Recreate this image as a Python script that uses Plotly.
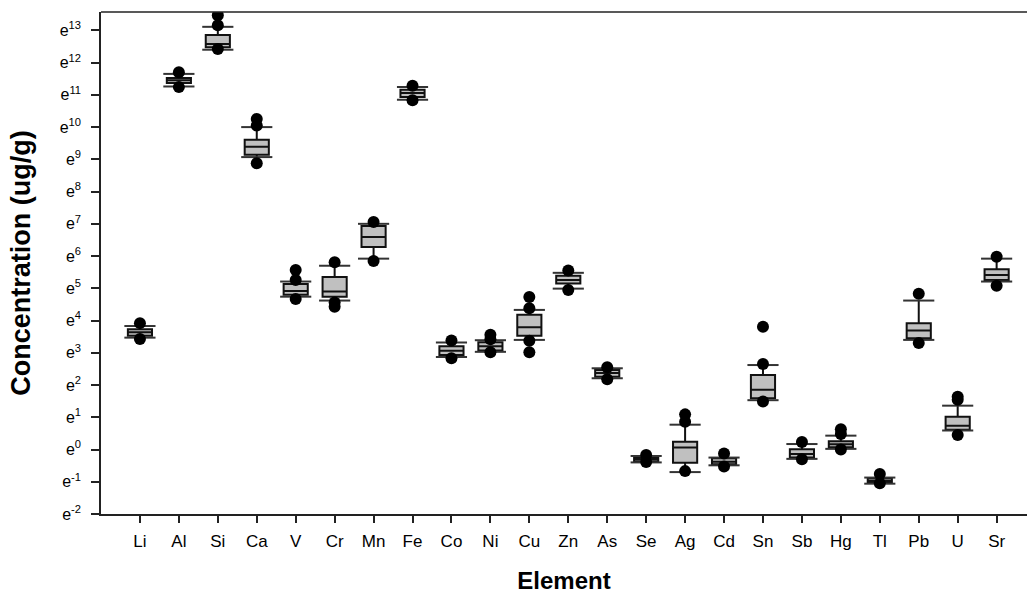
import plotly.graph_objects as go

# Values are natural-log concentrations (axis labelled e^n)
elements = ["Li", "Al", "Si", "Ca", "V", "Cr", "Mn", "Fe", "Co", "Ni", "Cu", "Zn",
            "As", "Se", "Ag", "Cd", "Sn", "Sb", "Hg", "Tl", "Pb", "U", "Sr"]

lower_whisker = [3.47, 11.26, 12.40, 9.07, 4.74, 4.62, 5.92, 10.85, 2.87, 3.03, 3.40, 4.99,
                 2.21, -0.40, -0.70, -0.49, 1.53, -0.29, 0.02, -1.06, 3.40, 0.59, 5.21]
q1_vals = [3.53, 11.37, 12.48, 9.14, 4.80, 4.74, 6.28, 10.93, 2.93, 3.07, 3.53, 5.15,
           2.26, -0.38, -0.41, -0.46, 1.59, -0.25, 0.07, -1.04, 3.45, 0.61, 5.26]
median_vals = [3.64, 11.45, 12.58, 9.39, 4.92, 4.90, 6.59, 11.06, 3.06, 3.20, 3.79, 5.26,
               2.37, -0.31, 0.06, -0.38, 1.85, -0.14, 0.16, -0.98, 3.69, 0.74, 5.41]
q3_vals = [3.73, 11.52, 12.86, 9.61, 5.13, 5.35, 6.93, 11.16, 3.20, 3.33, 4.18, 5.39,
           2.47, -0.25, 0.24, -0.27, 2.31, 0.01, 0.26, -0.90, 3.92, 1.02, 5.59]
upper_whisker = [3.83, 11.65, 13.11, 10.00, 5.21, 5.70, 7.00, 11.24, 3.32, 3.39, 4.33, 5.48,
                 2.52, -0.20, 0.77, -0.25, 2.62, 0.17, 0.43, -0.87, 4.62, 1.36, 5.92]
outliers = [
    [3.92, 3.43],
    [11.70, 11.24],
    [13.47, 13.16, 12.42],
    [10.25, 10.05, 8.88],
    [5.57, 5.26, 4.67],
    [5.81, 4.56, 4.43],
    [7.06, 5.85],
    [11.28, 10.83],
    [3.38, 2.83],
    [3.56, 3.42, 3.02],
    [4.73, 4.38, 3.37, 3.02],
    [5.55, 4.95],
    [2.55, 2.18],
    [-0.17, -0.39],
    [1.09, 0.86, -0.67],
    [-0.12, -0.53],
    [3.81, 2.65, 1.49],
    [0.23, -0.30],
    [0.63, 0.48, 0.00],
    [-0.76, -1.05],
    [4.83, 3.30],
    [1.64, 1.54, 0.45],
    [5.98, 5.08],
]
y_ticks = list(range(-2, 14))
y_ticktext = [f"e<sup>{t}</sup>" for t in y_ticks]

FONT = "Arial, 'Liberation Sans', sans-serif"
pos = list(range(len(elements)))

fig = go.Figure()

fig.add_trace(go.Box(
    x=pos, q1=q1_vals, median=median_vals, q3=q3_vals,
    lowerfence=lower_whisker, upperfence=upper_whisker,
    width=0.62, whiskerwidth=0,
    fillcolor="#c0c0c0",
    line=dict(color="#111111", width=2),
    boxpoints=False, hoverinfo="skip", showlegend=False,
))

# whisker caps
cap_half = 0.4
cx, cy = [], []
for i in pos:
    for v in (lower_whisker[i], upper_whisker[i]):
        cx += [i - cap_half, i + cap_half, None]
        cy += [v, v, None]
fig.add_trace(go.Scatter(x=cx, y=cy, mode="lines",
                         line=dict(color="#333333", width=2),
                         hoverinfo="skip", showlegend=False))

# outliers
ox, oy = [], []
for i, vals in enumerate(outliers):
    for v in vals:
        ox.append(i)
        oy.append(v)
fig.add_trace(go.Scatter(x=ox, y=oy, mode="markers",
                         marker=dict(color="black", size=12, line=dict(width=0)),
                         hoverinfo="skip", showlegend=False))

fig.update_layout(
    width=1027, height=594,
    margin=dict(l=101, r=0, t=12, b=80),
    paper_bgcolor="white", plot_bgcolor="white",
    font=dict(family=FONT, color="black"),
    showlegend=False,
    shapes=[
        dict(type="line", xref="paper", yref="paper", x0=0, x1=1, y0=1, y1=1,
             line=dict(color="#222", width=1.5), layer="above"),
        dict(type="rect", xref="paper", yref="paper", x0=0.986, x1=1.02, y0=0.004, y1=0.996,
             fillcolor="white", line=dict(width=0), layer="above"),
    ],
    xaxis=dict(
        range=[-1, 22.78], tickvals=pos, ticktext=elements,
        tickfont=dict(size=17, family=FONT, color="black"),
        ticks="outside", ticklen=7, tickwidth=1.5, tickcolor="#222",
        ticklabelstandoff=4,
        showline=True, linecolor="#222", linewidth=1.5, mirror=False,
        showgrid=False, zeroline=False, automargin=False,
        title=dict(text="<b>Element</b>", font=dict(size=24, family=FONT, color="black"),
                   standoff=29),
    ),
    yaxis=dict(
        range=[-2, 13.57], tickvals=y_ticks, ticktext=y_ticktext,
        tickfont=dict(size=16, family=FONT, color="black"),
        ticks="outside", ticklen=8, tickwidth=1.5, tickcolor="#222",
        ticklabelstandoff=7,
        showline=True, linecolor="#222", linewidth=1.5, mirror=False,
        showgrid=False, zeroline=False, automargin=False,
        title=dict(text="<b>Concentration (ug/g)</b>", font=dict(size=27, family=FONT, color="black"),
                   standoff=21),
    ),
)

fig.write_html("out.html")
